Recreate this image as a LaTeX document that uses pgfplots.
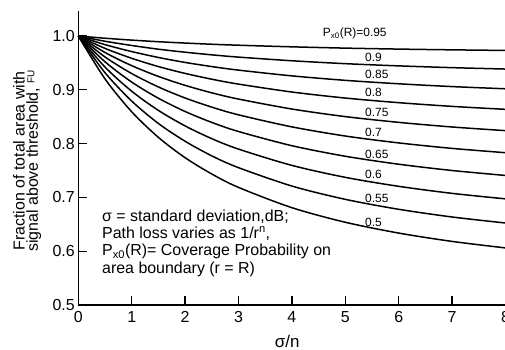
\documentclass[border=0pt]{standalone}
\usepackage{fontspec}
\setmainfont{Liberation Sans}
\usepackage{pgfplots}
\usepackage{pgfplotstable}
\pgfplotsset{compat=1.18}
\pgfplotstableread{
s    p95    p90    p85    p80    p75    p70    p65    p60    p55    p50
0    1.0000 1.0000 1.0000 1.0000 1.0000 1.0000 1.0000 1.0000 1.0000 1.0000
0.5  0.9959 0.9903 0.9840 0.9770 0.9694 0.9611 0.9521 0.9423 0.9318 0.9203
1    0.9924 0.9824 0.9711 0.9586 0.9449 0.9302 0.9144 0.8974 0.8791 0.8592
1.5  0.9894 0.9755 0.9601 0.9432 0.9249 0.9053 0.8843 0.8617 0.8374 0.8116
2    0.9869 0.9699 0.9509 0.9305 0.9083 0.8848 0.8597 0.8329 0.8044 0.7738
2.5  0.9847 0.9650 0.9432 0.9197 0.8944 0.8678 0.8394 0.8092 0.7772 0.7435
3    0.9829 0.9608 0.9366 0.9106 0.8828 0.8535 0.8225 0.7898 0.7553 0.7186
4    0.9799 0.9540 0.9259 0.8959 0.8643 0.8311 0.7961 0.7595 0.7211 0.6809
5    0.9775 0.9486 0.9176 0.8847 0.8502 0.8141 0.7765 0.7373 0.6964 0.6538
6    0.9757 0.9445 0.9112 0.8761 0.8395 0.8013 0.7617 0.7206 0.6779 0.6337
7    0.9743 0.9412 0.9060 0.8692 0.8309 0.7911 0.7500 0.7075 0.6636 0.6182
8    0.9732 0.9386 0.9019 0.8637 0.8241 0.7831 0.7408 0.6973 0.6524 0.6061
}\datatable
\begin{document}
\begin{tikzpicture}
\begin{axis}[
  at={(78.3bp,45bp)}, anchor=south west,
  scale only axis, width=427.2bp, height=294bp,
  xmin=0, xmax=8, ymin=0.5, ymax=1.0465,
  axis x line=bottom, axis y line=left,
  axis line style={-, line width=1.3bp, black},
  xtick={0,1,...,8}, ytick={0.5,0.6,0.7,0.8,0.9,1.0},
  tick align=inside, major tick length=8.5bp,
  tick style={line width=1.3bp, black},
  ticklabel style={font=\fontsize{16}{16}\selectfont},
  /pgf/number format/assume math mode=true,
  yticklabel style={/pgf/number format/fixed, /pgf/number format/fixed zerofill, /pgf/number format/precision=1},
  xticklabel style={yshift=-3bp},
  xlabel={σ/n},
  xlabel style={at={(axis description cs:0.489,0)}, anchor=base, yshift=-42bp, font=\fontsize{17}{17}\selectfont},
  ylabel={Fraction of total area with\\signal above threshold, \raisebox{3.5bp}{\fontsize{10}{10}\selectfont FU}},
  ylabel style={at={(axis description cs:-0.0862,0.49)}, anchor=south, align=center, inner sep=0pt, font=\fontsize{16}{13.3}\selectfont},
  clip=false,
]
\addplot[black, line width=1.5bp, smooth] table[x=s, y=p95] {\datatable};
\addplot[black, line width=1.5bp, smooth] table[x=s, y=p90] {\datatable};
\addplot[black, line width=1.5bp, smooth] table[x=s, y=p85] {\datatable};
\addplot[black, line width=1.5bp, smooth] table[x=s, y=p80] {\datatable};
\addplot[black, line width=1.5bp, smooth] table[x=s, y=p75] {\datatable};
\addplot[black, line width=1.5bp, smooth] table[x=s, y=p70] {\datatable};
\addplot[black, line width=1.5bp, smooth] table[x=s, y=p65] {\datatable};
\addplot[black, line width=1.5bp, smooth] table[x=s, y=p60] {\datatable};
\addplot[black, line width=1.5bp, smooth] table[x=s, y=p55] {\datatable};
\addplot[black, line width=1.5bp, smooth] table[x=s, y=p50] {\datatable};
\begin{scope}[every node/.style={anchor=base west, inner sep=0pt, font=\fontsize{12}{12}\selectfont}]
\node at (axis cs:4.577,0.9987) {P\textsubscript{x0}(R)=0.95};
\node at (axis cs:5.369,0.9522) {0.9};
\node at (axis cs:5.369,0.9206) {0.85};
\node at (axis cs:5.369,0.8872) {0.8};
\node at (axis cs:5.369,0.8500) {0.75};
\node at (axis cs:5.369,0.8128) {0.7};
\node at (axis cs:5.369,0.7732) {0.65};
\node at (axis cs:5.369,0.7355) {0.6};
\node at (axis cs:5.369,0.6901) {0.55};
\node at (axis cs:5.369,0.6455) {0.5};
\end{scope}
\begin{scope}[every node/.style={anchor=base west, inner sep=0pt, font=\fontsize{16}{16}\selectfont}]
\node at (axis cs:0.444,0.6561) {σ = standard deviation,dB;};
\node at (axis cs:0.444,0.6236) {Path loss varies as 1/r\textsuperscript{n},};
\node at (axis cs:0.444,0.5911) {P\textsubscript{x0}(R)= Coverage Probability on};
\node at (axis cs:0.444,0.5585) {area boundary (r = R)};
\end{scope}
\end{axis}
\pgfresetboundingbox
\path[use as bounding box] (0,0) rectangle (505bp,350bp);
\end{tikzpicture}
\end{document}
